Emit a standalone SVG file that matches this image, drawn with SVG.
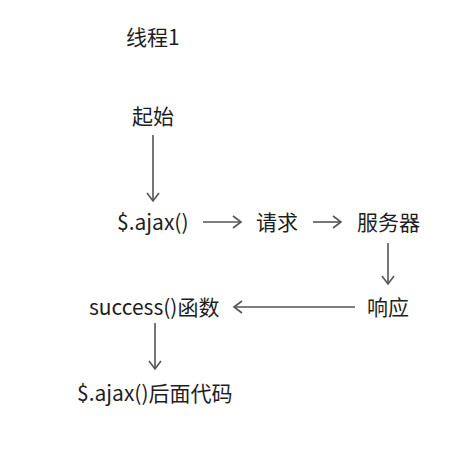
<svg xmlns="http://www.w3.org/2000/svg" width="469" height="461" viewBox="0 0 469 461">
<style>
text{font-family:"Noto Sans CJK SC","Microsoft YaHei",sans-serif;font-size:21px;fill:#1e1e1e}
.c line{stroke:#555;stroke-width:1.6;fill:none}
</style>
<defs>
<marker id="a" markerWidth="14" markerHeight="14" refX="11" refY="7" orient="auto" markerUnits="userSpaceOnUse">
<polyline points="3,1 11,7 3,13" fill="none" stroke="#555" stroke-width="1.6"/>
</marker>
</defs>
<rect width="469" height="461" fill="#fff"/>
<g id="title"><text x="126" y="45">线程1</text></g>
<g id="start"><text x="132" y="124">起始</text></g>
<g id="ajax"><text x="117" y="230">$.ajax()</text></g>
<g id="request"><text x="256" y="230">请求</text></g>
<g id="server"><text x="357" y="230">服务器</text></g>
<g id="response"><text x="367" y="315">响应</text></g>
<g id="success"><text x="89" y="315">success()函数</text></g>
<g id="after"><text x="77" y="401">$.ajax()后面代码</text></g>
<g class="c">
<line x1="153" y1="135" x2="153" y2="201" marker-end="url(#a)"/>
<line x1="203" y1="222" x2="241" y2="222" marker-end="url(#a)"/>
<line x1="313" y1="222" x2="341" y2="222" marker-end="url(#a)"/>
<line x1="388" y1="243" x2="388" y2="284" marker-end="url(#a)"/>
<line x1="355" y1="307" x2="234" y2="307" marker-end="url(#a)"/>
<line x1="155" y1="323" x2="155" y2="369" marker-end="url(#a)"/>
</g>
</svg>
